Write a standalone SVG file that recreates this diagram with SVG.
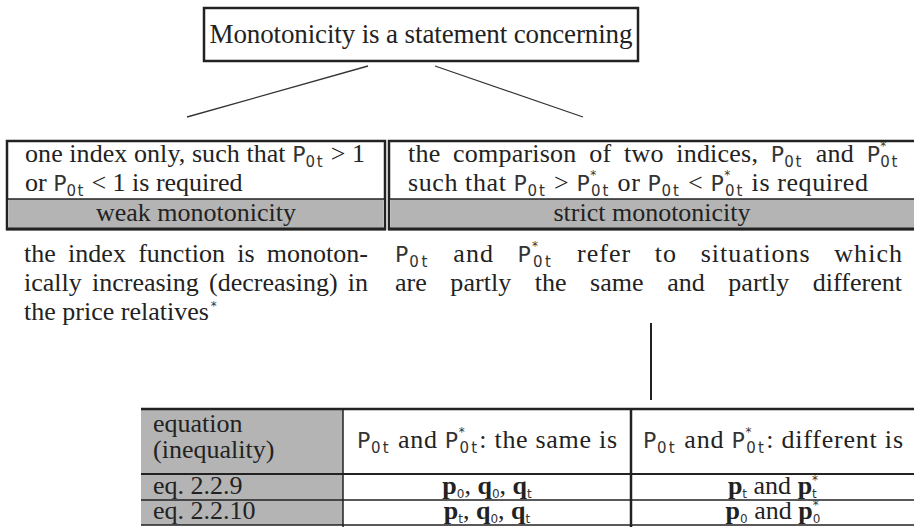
<svg xmlns="http://www.w3.org/2000/svg" width="914" height="527" viewBox="0 0 914 527">
<style>
.t{font-family:"Liberation Serif","Times New Roman",serif;font-size:26px;fill:#222}
.title{font-size:27px}
.m{font-family:"DejaVu Sans","Liberation Sans",sans-serif;font-size:22px;fill:#333}
.s{font-family:"DejaVu Sans","Liberation Sans",sans-serif;font-size:15px;letter-spacing:1.5px;fill:#333}
.st{font-family:"DejaVu Sans","Liberation Sans",sans-serif;font-size:12px;fill:#333}
.b{font-weight:bold}
.bx{fill:#fff;stroke:#222;stroke-width:2.5}
.gr{fill:#b4b4b4}
.ln{stroke:#222;fill:none}
.cn{stroke:#333;stroke-width:1.3;fill:none}
</style>
<rect width="914" height="527" fill="#fff"/>

<g id="top">
  <rect class="bx" x="204" y="8" width="434" height="53"/>
  <text class="t title" x="421" y="43" text-anchor="middle" textLength="423">Monotonicity is a statement concerning</text>
</g>

<g id="connectors">
  <line class="cn" x1="368" y1="66" x2="187" y2="117"/>
  <line class="cn" x1="435" y1="66" x2="583" y2="117"/>
  <line class="ln" stroke-width="2" x1="651" y1="323" x2="651" y2="400"/>
</g>

<g id="weak">
  <rect class="bx" x="7" y="141" width="378" height="88"/>
  <rect class="gr" x="8.5" y="199" width="375" height="29"/>
  <line class="ln" stroke-width="1.5" x1="7" y1="199" x2="385" y2="199"/>
  <line class="ln" stroke-width="3" x1="6" y1="229" x2="386" y2="229"/>
  <text class="t" x="25" y="162" textLength="340">one index only, such that <tspan class="m">P</tspan><tspan class="s" dy="5">0t</tspan><tspan dy="-5"> &gt; 1</tspan></text>
  <text class="t" x="25" y="191">or <tspan class="m">P</tspan><tspan class="s" dy="5">0t</tspan><tspan dy="-5"> &lt; 1 is required</tspan></text>
  <text class="t" x="196" y="221" text-anchor="middle">weak monotonicity</text>
</g>

<g id="strict">
  <rect class="bx" x="389" y="141" width="530" height="88"/>
  <rect class="gr" x="390.5" y="199" width="528" height="29"/>
  <line class="ln" stroke-width="1.5" x1="389" y1="199" x2="914" y2="199"/>
  <line class="ln" stroke-width="3" x1="388" y1="229" x2="914" y2="229"/>
  <text class="t" x="408" y="162" textLength="491" style="word-spacing:6px">the comparison of two indices, <tspan class="m">P</tspan><tspan class="s" dy="5">0t</tspan><tspan dy="-5"> and </tspan><tspan class="m">P</tspan><tspan class="st" dy="-12">*</tspan><tspan class="s" dx="-6" dy="17">0t</tspan></text>
  <text class="t" x="408" y="191" textLength="460">such that <tspan class="m">P</tspan><tspan class="s" dy="5">0t</tspan><tspan dy="-5"> &gt; </tspan><tspan class="m">P</tspan><tspan class="st" dy="-12">*</tspan><tspan class="s" dx="-6" dy="17">0t</tspan><tspan dy="-5"> or </tspan><tspan class="m">P</tspan><tspan class="s" dy="5">0t</tspan><tspan dy="-5"> &lt; </tspan><tspan class="m">P</tspan><tspan class="st" dy="-12">*</tspan><tspan class="s" dx="-6" dy="17">0t</tspan><tspan dy="-5"> is required</tspan></text>
  <text class="t" x="652" y="221" text-anchor="middle">strict monotonicity</text>
</g>

<g id="weak-text">
  <text class="t" x="24" y="262" textLength="344" style="word-spacing:5.8px">the index function is monoton-</text>
  <text class="t" x="24" y="291" textLength="344" style="word-spacing:3.7px">ically increasing (decreasing) in</text>
  <text class="t" x="24" y="320">the price relatives<tspan class="st" dx="2" dy="-10">*</tspan></text>
</g>

<g id="strict-text">
  <text class="t" x="395" y="262" textLength="507" style="word-spacing:16px"><tspan class="m">P</tspan><tspan class="s" dy="5">0t</tspan><tspan dy="-5"> and </tspan><tspan class="m">P</tspan><tspan class="st" dy="-12">*</tspan><tspan class="s" dx="-6" dy="17">0t</tspan><tspan dy="-5"> refer to situations which</tspan></text>
  <text class="t" x="395" y="291" textLength="507" style="word-spacing:17px">are partly the same and partly different</text>
</g>

<g id="table">
  <rect class="gr" x="141" y="409" width="202" height="116"/>
  <line class="ln" stroke-width="2.5" x1="141" y1="409" x2="914" y2="409"/>
  <line class="ln" stroke-width="2" x1="141" y1="474" x2="914" y2="474"/>
  <line class="ln" stroke-width="1.5" x1="141" y1="500" x2="914" y2="500"/>
  <line class="ln" stroke-width="1.5" x1="141" y1="525" x2="914" y2="525"/>
  <line class="ln" stroke-width="1.5" x1="343" y1="409" x2="343" y2="527"/>
  <line class="ln" stroke-width="2.5" x1="631" y1="409" x2="631" y2="527"/>
  <text class="t" x="153" y="432">equation</text>
  <text class="t" x="153" y="458">(inequality)</text>
  <text class="t" x="487" y="448" text-anchor="middle" textLength="260"><tspan class="m">P</tspan><tspan class="s" dy="5">0t</tspan><tspan dy="-5"> and </tspan><tspan class="m">P</tspan><tspan class="st" dy="-12">*</tspan><tspan class="s" dx="-6" dy="17">0t</tspan><tspan dy="-5">: the same is</tspan></text>
  <text class="t" x="773" y="448" text-anchor="middle" textLength="260"><tspan class="m">P</tspan><tspan class="s" dy="5">0t</tspan><tspan dy="-5"> and </tspan><tspan class="m">P</tspan><tspan class="st" dy="-12">*</tspan><tspan class="s" dx="-6" dy="17">0t</tspan><tspan dy="-5">: different is</tspan></text>
  <text class="t" x="153" y="494">eq. 2.2.9</text>
  <text class="t" x="153" y="519">eq. 2.2.10</text>
  <text class="t" x="487" y="494" text-anchor="middle"><tspan class="b">p</tspan><tspan class="st" dy="4">0</tspan><tspan dy="-4">, </tspan><tspan class="b">q</tspan><tspan class="st" dy="4">0</tspan><tspan dy="-4">, </tspan><tspan class="b">q</tspan><tspan class="st" dy="4">t</tspan></text>
  <text class="t" x="773" y="494" text-anchor="middle"><tspan class="b">p</tspan><tspan class="st" dy="4">t</tspan><tspan dy="-4"> and </tspan><tspan class="b">p</tspan><tspan class="st" dy="-10">*</tspan><tspan class="st" dx="-6" dy="14">t</tspan></text>
  <text class="t" x="487" y="519" text-anchor="middle"><tspan class="b">p</tspan><tspan class="st" dy="4">t</tspan><tspan dy="-4">, </tspan><tspan class="b">q</tspan><tspan class="st" dy="4">0</tspan><tspan dy="-4">, </tspan><tspan class="b">q</tspan><tspan class="st" dy="4">t</tspan></text>
  <text class="t" x="773" y="519" text-anchor="middle"><tspan class="b">p</tspan><tspan class="st" dy="4">0</tspan><tspan dy="-4"> and </tspan><tspan class="b">p</tspan><tspan class="st" dy="-10">*</tspan><tspan class="st" dx="-6" dy="14">0</tspan></text>
</g>
</svg>
